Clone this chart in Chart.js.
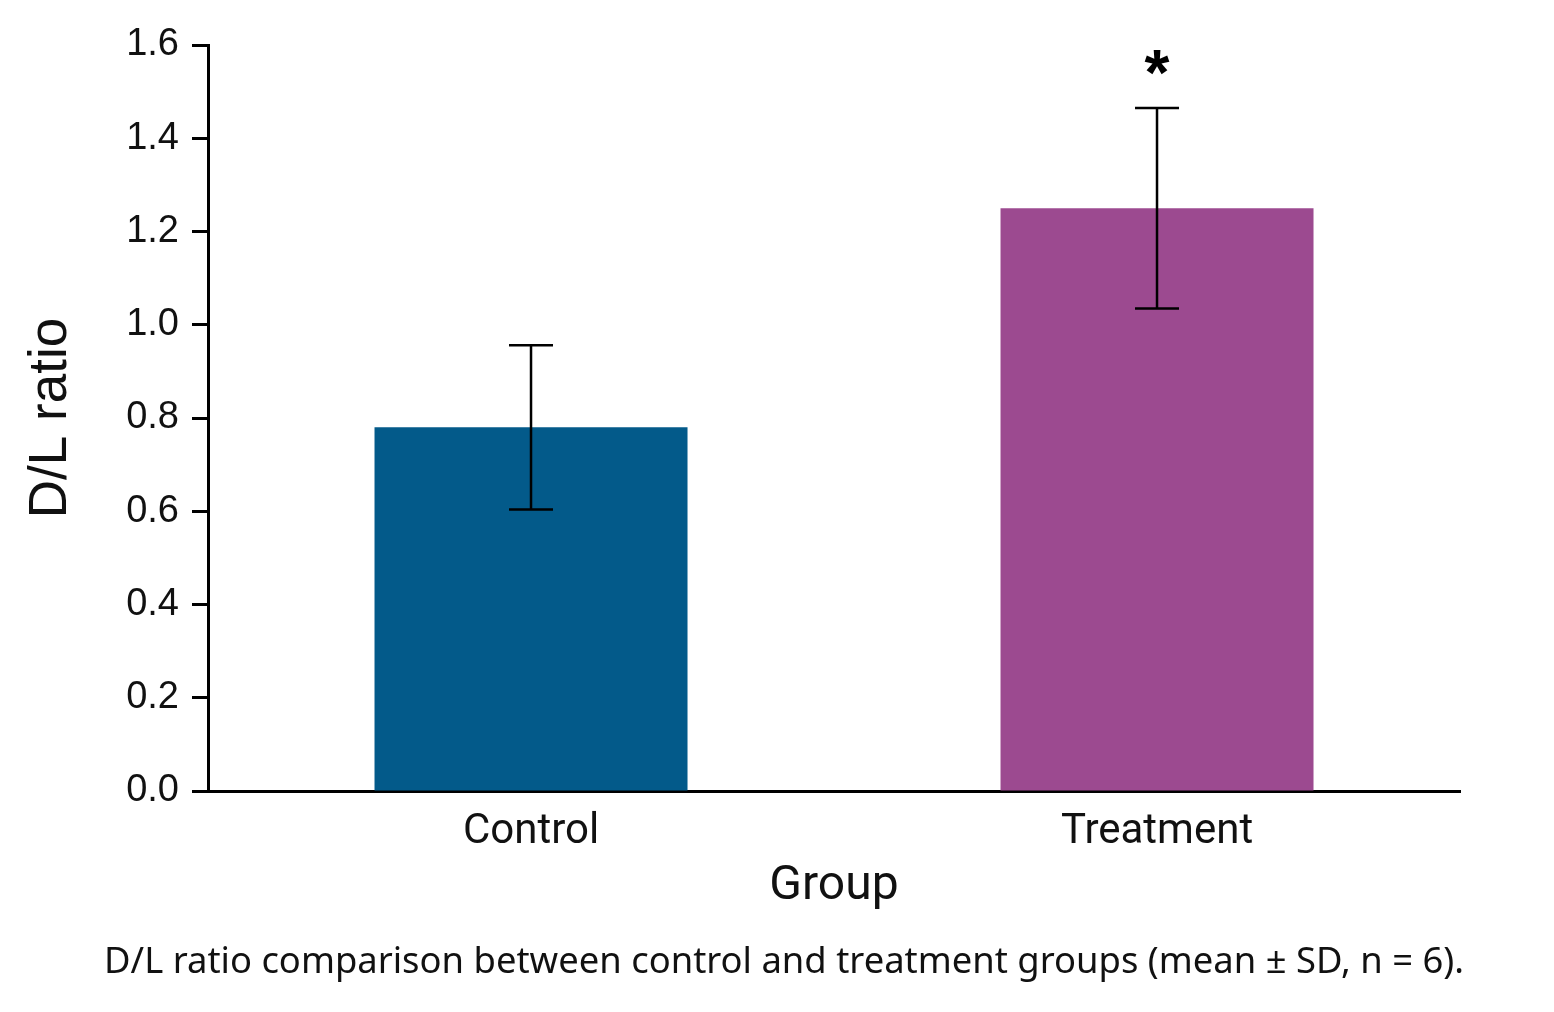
<!DOCTYPE html>
<html>
<head>
<meta charset="utf-8">
<script src="https://cdn.jsdelivr.net/npm/chart.js@4.4.1/dist/chart.umd.min.js"></script>
<style>
  html, body { margin: 0; padding: 0; background: #fff; }
  #wrap { position: relative; width: 1554px; height: 1012px; }
  #caption {
    position: absolute; left: 0; width: 1554px; top: 934px;
    text-align: center; font-family: "Noto Sans", sans-serif; font-size: 36.4px; color: #111;
    padding-left: 14px; box-sizing: border-box;
  }
</style>
</head>
<body>
<div id="wrap">
  <canvas id="chart" width="1554" height="1012"></canvas>
  <div id="caption">D/L ratio comparison between control and treatment groups (mean ± SD, n = 6).</div>
</div>
<script>
// Data
const groups = ['Control', 'Treatment'];
const means = [0.78, 1.25];
const sds = [0.176, 0.215];
const sigMarks = ['', '*'];
const barColors = ['#035a8a', '#9c4a90'];
const yMin = 0, yMax = 1.6, yStep = 0.2;

// error bars + significance marks
const errorBars = {
  id: 'errorBars',
  afterDatasetsDraw(chart) {
    const ctx = chart.ctx;
    const meta = chart.getDatasetMeta(0);
    const y = chart.scales.y;
    ctx.save();
    ctx.strokeStyle = '#000';
    ctx.lineWidth = 2.5;
    meta.data.forEach((bar, i) => {
      const x = bar.x;
      const top = y.getPixelForValue(means[i] + sds[i]);
      const bot = y.getPixelForValue(means[i] - sds[i]);
      const cap = 22;
      ctx.beginPath();
      ctx.moveTo(x, top); ctx.lineTo(x, bot);
      ctx.moveTo(x - cap, top); ctx.lineTo(x + cap, top);
      ctx.moveTo(x - cap, bot); ctx.lineTo(x + cap, bot);
      ctx.stroke();
      if (sigMarks[i]) {
        ctx.fillStyle = '#000';
        ctx.font = 'bold 64px "Liberation Sans", Arial, sans-serif';
        ctx.textAlign = 'center';
        ctx.textBaseline = 'middle';
        ctx.fillText(sigMarks[i], x, top - 31);
      }
    });
    ctx.restore();
  }
};

new Chart(document.getElementById('chart').getContext('2d'), {
  type: 'bar',
  data: {
    datasets: [{
      data: means.map((m, i) => ({ x: i, y: m })),
      backgroundColor: barColors,
      borderWidth: 0,
      barPercentage: 0.5,
      categoryPercentage: 1.0
    }]
  },
  options: {
    responsive: false,
    animation: false,
    layout: { padding: { top: 45, right: 94, left: 0, bottom: 96 } },
    plugins: { legend: { display: false }, tooltip: { enabled: false } },
    scales: {
      x: {
        type: 'linear',
        offset: false,
        min: -0.516, max: 1.484,
        afterFit(scale) { scale.height = 125; },
        afterBuildTicks(scale) { scale.ticks = groups.map((g, i) => ({ value: i })); },
        grid: { display: false, drawTicks: false },
        border: { display: true, color: '#000', width: 3 },
        ticks: {
          color: '#111', padding: 16, autoSkip: false, maxRotation: 0,
          font: { family: 'Roboto, "Liberation Sans", sans-serif', size: 42 },
          callback: v => groups[v]
        },
        title: {
          display: true, text: 'Group', color: '#111',
          font: { family: 'Roboto, "Liberation Sans", sans-serif', size: 48 },
          padding: { top: 0, bottom: 0 }
        }
      },
      y: {
        min: yMin, max: yMax,
        afterFit(scale) { scale.width = 208; },
        grid: { drawOnChartArea: false, drawTicks: true, tickLength: 16, tickWidth: 3, tickColor: '#000' },
        border: { display: true, color: '#000', width: 3 },
        ticks: {
          stepSize: yStep, color: '#111', padding: 13,
          font: { family: '"Liberation Sans", Arial, sans-serif', size: 38 },
          callback: v => v.toFixed(1)
        },
        title: {
          display: true, text: 'D/L ratio', color: '#111',
          font: { family: '"Liberation Sans", Arial, sans-serif', size: 53 },
          padding: { top: 20 }
        }
      }
    }
  },
  plugins: [errorBars]
});
</script>
</body>
</html>
